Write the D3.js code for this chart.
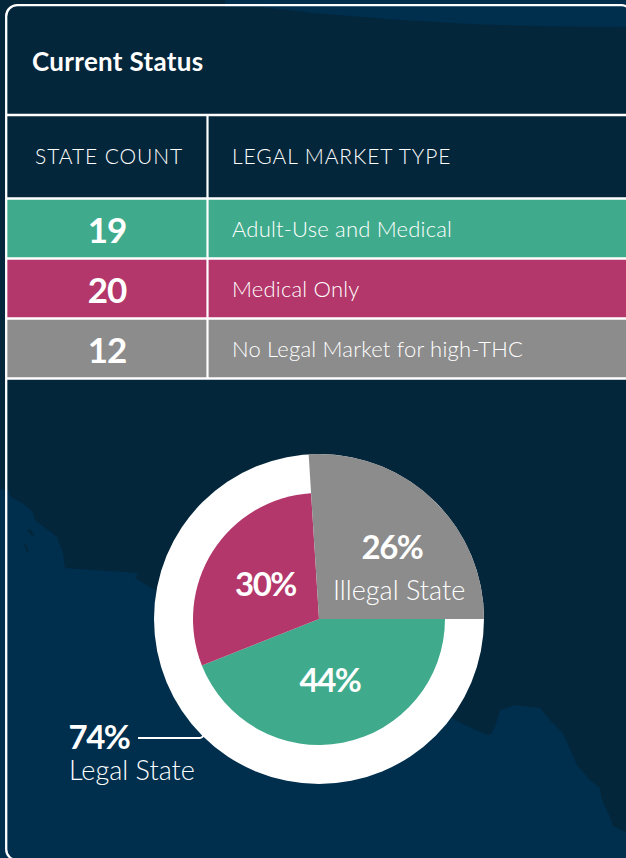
<!DOCTYPE html>
<html>
<head>
<meta charset="utf-8">
<script src="https://cdn.jsdelivr.net/npm/d3@7"></script>
<style>
  html, body { margin: 0; padding: 0; background: #04263a; overflow: hidden; }
  svg { display: block; }
  text { font-family: Lato, sans-serif; fill: #fff; }
</style>
</head>
<body>
<svg></svg>
<script>
// table
const stateCounts = [19, 20, 12];
const marketTypes = ['Adult-Use and Medical', 'Medical Only', 'No Legal Market for high-THC'];
const rowColors = ['#40ab8c', '#b3376a', '#8c8c8c'];
const headers = ['STATE COUNT', 'LEGAL MARKET TYPE'];

// pie, clockwise starting from 3 o'clock
const sliceNames = ['Adult-Use and Medical', 'Medical Only', 'Illegal State'];
const sliceValues = [44, 30, 26];
const sliceColors = ['#40ab8c', '#b3376a', '#8c8c8c'];

// background map outline (just decoration)
const coastLow = [[0,489],[8,490],[11,497],[24,504],[33,512],[35,520],[47,529],[57,537],[63,553],[65,568],[138,573],[135,578],[155,590],
  [319,640],[452,718],[465,725],[485,734],[490,735],[495,727],[500,710],[510,707],[513,705],[540,708],[550,720],[563,733],
  [577,765],[590,780],[600,788],[602,800],[610,817],[613,826],[626,832],[626,858],[0,858]];
const coastTop = [[260,7],[313,13],[400,20],[480,24.5],[560,26.5],[626,27],[626,0],[225,0],[225,7]];
const lakes = [[[27,529],[31,530],[35,536],[31,535]], [[24,544],[26,544],[29,553],[27,552]]];

const width = 626, height = 858;
const mapBlue = '#002e4d';

const svg = d3.select('svg').attr('width', width).attr('height', height);

// map
const line = d3.line().curve(d3.curveLinear);
svg.selectAll('path.coast')
  .data([coastLow, coastTop])
  .enter()
  .append('path')
  .attr('class', 'coast')
  .attr('d', (d) => line(d) + 'Z')
  .attr('fill', mapBlue);

svg.selectAll('path.lake')
  .data(lakes)
  .enter()
  .append('path')
  .attr('class', 'lake')
  .attr('d', (d) => line(d) + 'Z')
  .attr('fill', '#04263a');

// table rows
const yRow = d3.scaleBand().domain(d3.range(3)).range([198.5, 378.5]);
const rows = svg.selectAll('g.row')
  .data(stateCounts)
  .enter()
  .append('g')
  .attr('class', 'row')
  .attr('transform', (d, i) => `translate(0,${yRow(i)})`);

rows.append('rect')
  .attr('x', 6)
  .attr('width', width)
  .attr('height', yRow.bandwidth())
  .attr('fill', (d, i) => rowColors[i]);

rows.append('text')
  .attr('x', 107)
  .attr('y', 44.5)
  .attr('text-anchor', 'middle')
  .attr('font-size', 35)
  .attr('font-weight', 700)
  .attr('letter-spacing', -1)
  .text((d) => d);

rows.append('text')
  .attr('x', 232)
  .attr('y', 38.5)
  .attr('font-size', 22)
  .attr('font-weight', 300)
  .attr('letter-spacing', 0.2)
  .text((d, i) => marketTypes[i]);

// grid lines
const hLines = [115, 198.5, 258.5, 318.5, 378.5];
svg.selectAll('line.h')
  .data(hLines)
  .enter()
  .append('line')
  .attr('class', 'h')
  .attr('x1', 6)
  .attr('x2', width)
  .attr('y1', (d) => d)
  .attr('y2', (d) => d)
  .attr('stroke', '#fff')
  .attr('stroke-width', 2.5);

svg.append('line')
  .attr('x1', 207.5).attr('x2', 207.5)
  .attr('y1', 115).attr('y2', 378.5)
  .attr('stroke', '#fff')
  .attr('stroke-width', 2.2);

// frame, bottom edge sits just below the window
svg.append('rect')
  .attr('x', 6.2).attr('y', 5.2)
  .attr('width', 626).attr('height', 855)
  .attr('rx', 11)
  .attr('fill', 'none')
  .attr('stroke', '#fff')
  .attr('stroke-width', 2.3);

// headings
svg.append('text')
  .attr('x', 32).attr('y', 71)
  .attr('font-size', 26)
  .attr('font-weight', 700)
  .attr('letter-spacing', 0.3)
  .text('Current Status');

svg.selectAll('text.head')
  .data(headers)
  .enter()
  .append('text')
  .attr('class', 'head')
  .attr('x', (d, i) => (i ? 232 : 35))
  .attr('y', 164)
  .attr('font-size', 21)
  .attr('font-weight', 300)
  .attr('letter-spacing', 0.9)
  .text((d) => d);

// pie
const cx = 319, cy = 619;
const rInner = 126, rOuter = 165;
const pieG = svg.append('g').attr('transform', `translate(${cx},${cy})`);

pieG.append('circle').attr('r', rOuter).attr('fill', '#fff');

const pie = d3.pie()
  .sort(null)
  .startAngle(Math.PI / 2)
  .endAngle(Math.PI / 2 + 2 * Math.PI);
const arcs = pie(sliceValues);
const arc = d3.arc().innerRadius(0);

pieG.selectAll('path')
  .data(arcs)
  .enter()
  .append('path')
  .attr('d', (d, i) => arc.outerRadius(sliceNames[i] === 'Illegal State' ? rOuter : rInner)(d))
  .attr('fill', (d, i) => sliceColors[i]);

// pie labels
const pct = (v) => `${v}%`;
const bigLabels = [
  { text: pct(sliceValues[0]), x: 330, y: 692 },
  { text: pct(sliceValues[1]), x: 265.5, y: 596 },
  { text: pct(sliceValues[2]), x: 392, y: 559 },
  { text: pct(sliceValues[0] + sliceValues[1]), x: 99, y: 749 },
];
svg.selectAll('text.big')
  .data(bigLabels)
  .enter()
  .append('text')
  .attr('class', 'big')
  .attr('x', (d) => d.x)
  .attr('y', (d) => d.y)
  .attr('text-anchor', 'middle')
  .attr('font-size', 33)
  .attr('font-weight', 700)
  .attr('letter-spacing', -1.5)
  .text((d) => d.text);

svg.append('text')
  .attr('x', 333).attr('y', 600)
  .attr('font-size', 27).attr('font-weight', 300)
  .text('Illegal State');

svg.append('text')
  .attr('x', 69).attr('y', 780)
  .attr('font-size', 27).attr('font-weight', 300)
  .text('Legal State');

// leader line for 74%
svg.append('path')
  .attr('d', 'M138,738H200Q202,738 204,735')
  .attr('fill', 'none')
  .attr('stroke', '#fff')
  .attr('stroke-width', 2);
</script>
</body>
</html>
